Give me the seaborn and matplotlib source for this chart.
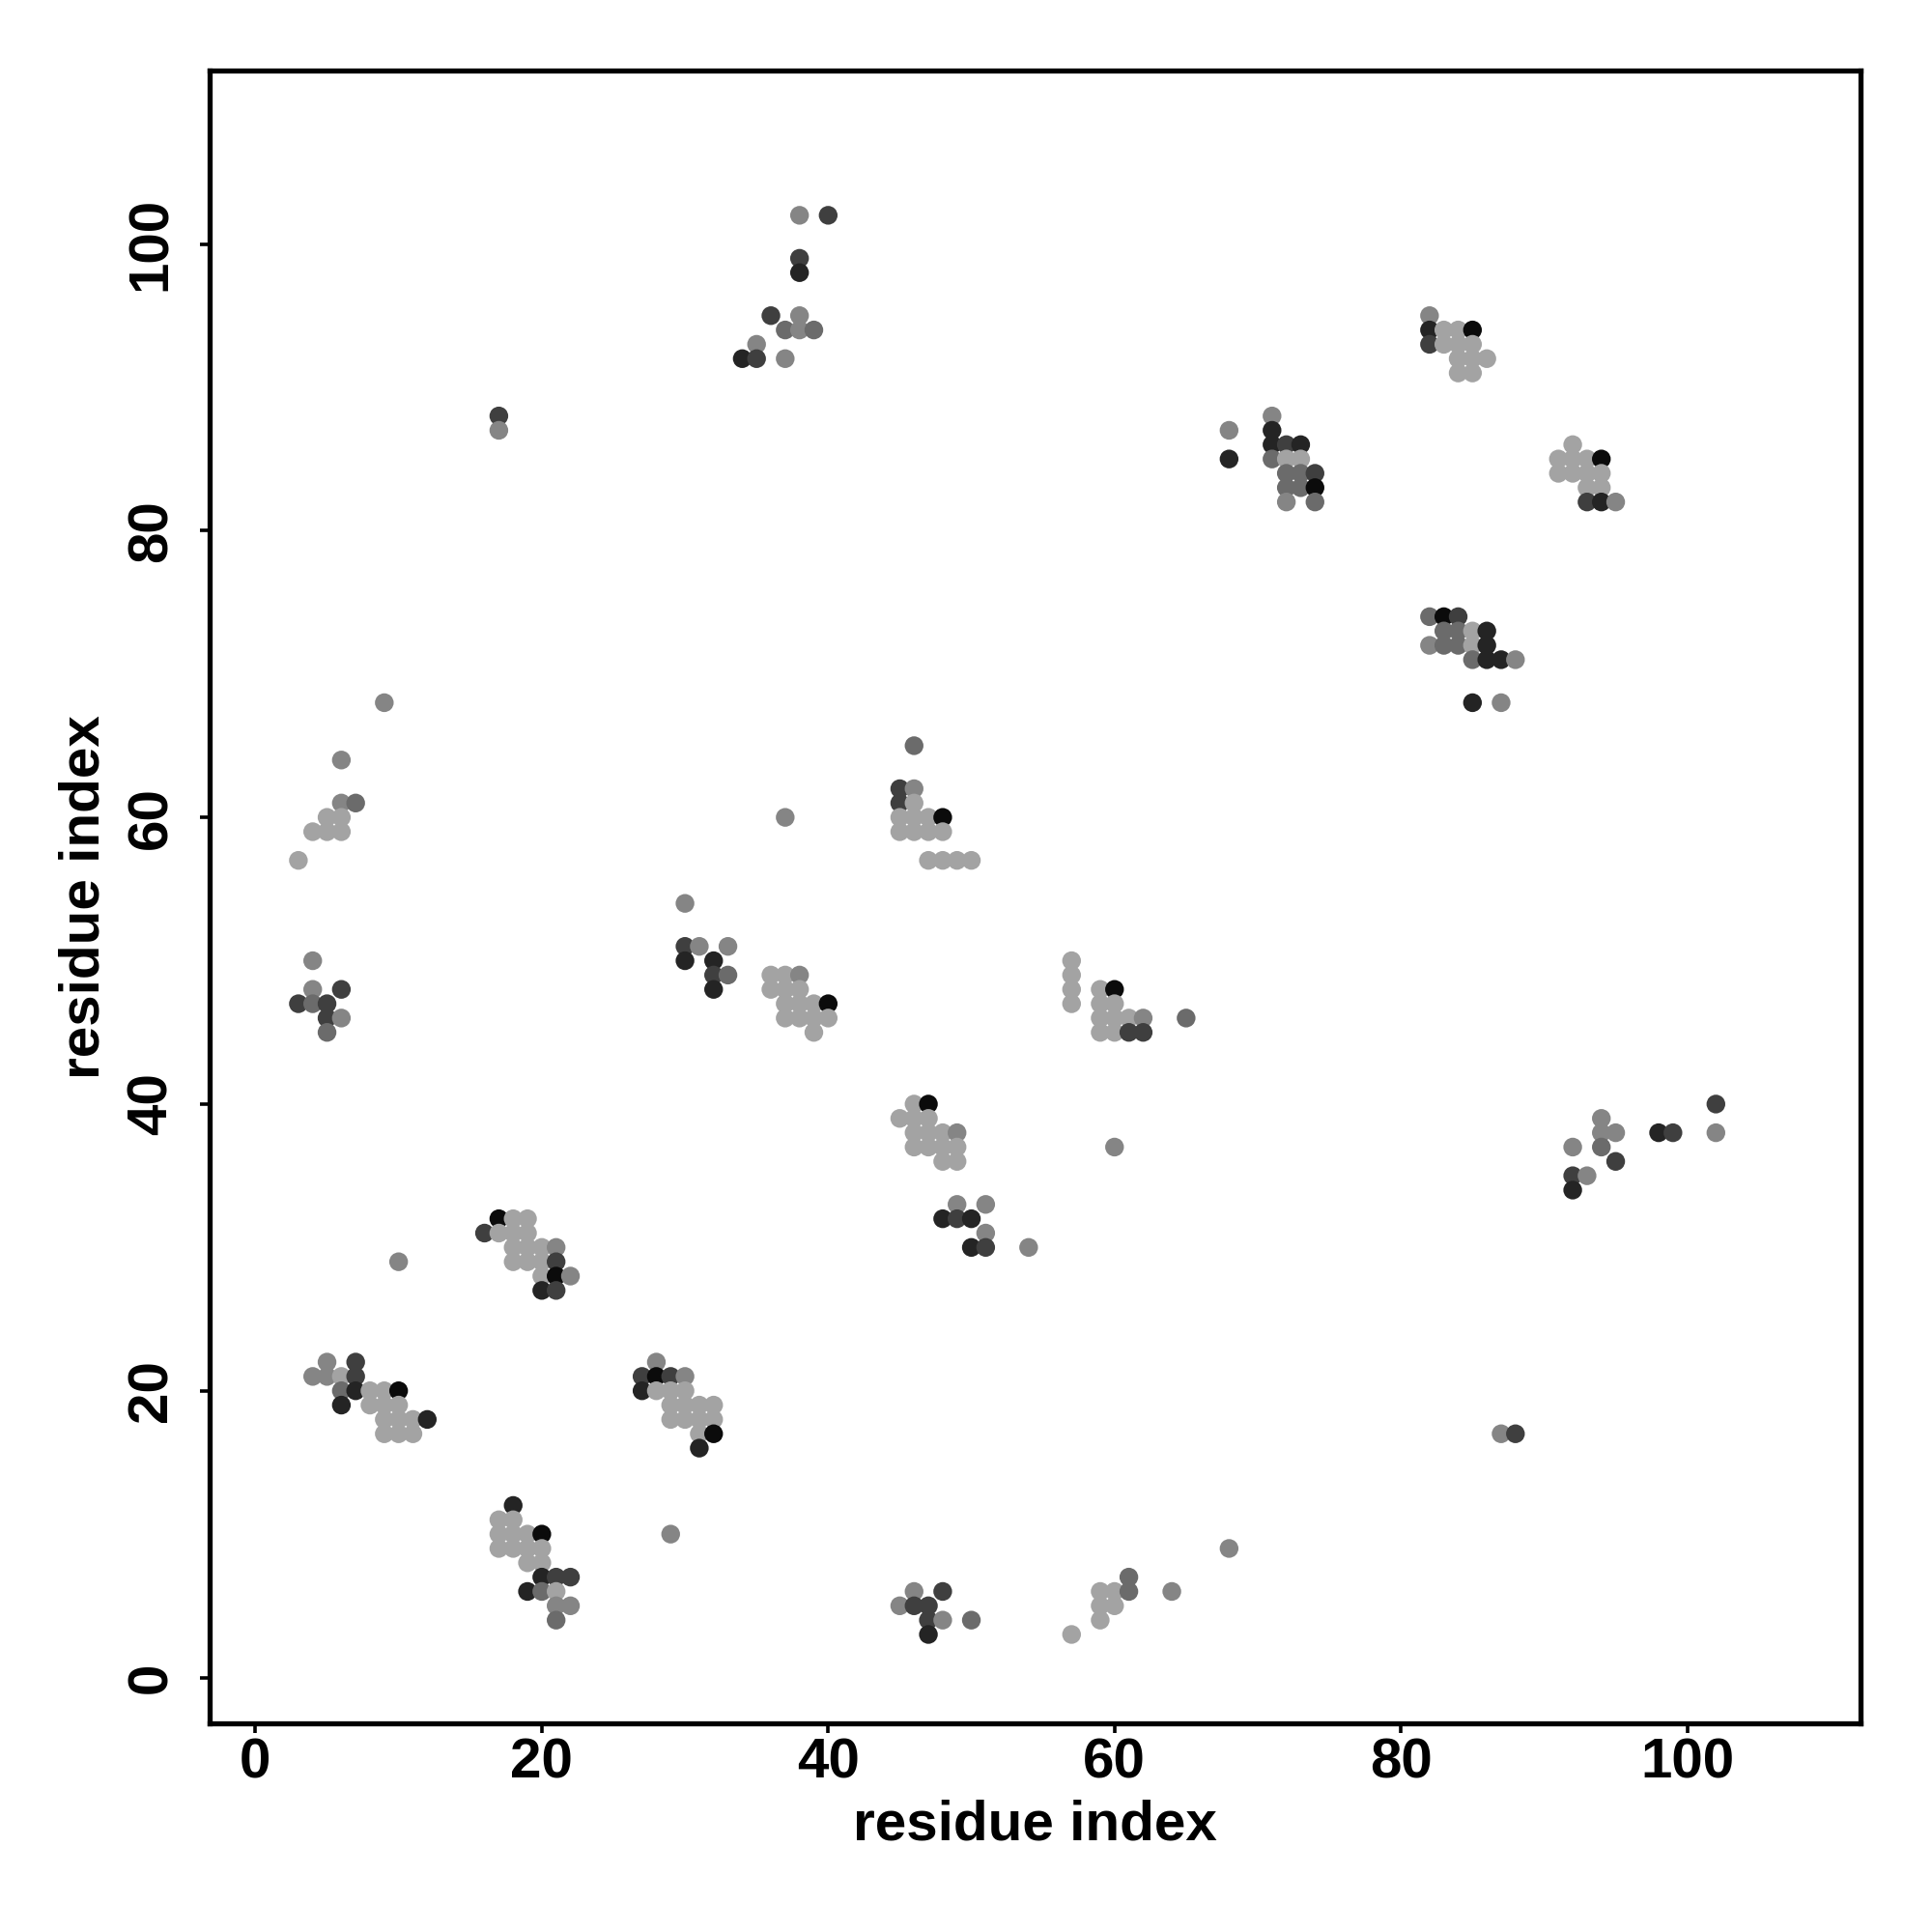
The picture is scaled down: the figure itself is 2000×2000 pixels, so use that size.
import matplotlib
matplotlib.use("Agg")
import matplotlib.pyplot as plt
import seaborn as sns
import pandas as pd

# ---------------------------
# contact points: residue i, residue j, shade class (one line per cluster)
# ---------------------------
res_i = [
    17, 18, 19, 16, 17, 18, 19, 18, 19, 20, 21, 18, 19, 20, 21, 20, 21, 22, 20, 21, 10,
    5, 7, 4, 5, 6, 7, 6, 7, 8, 9, 10, 6, 8, 9, 10, 9, 10, 11, 12, 9, 10, 11,
    18, 17, 18, 17, 18, 19, 20, 17, 18, 19, 20, 19, 20, 20, 21, 22, 19, 20, 21, 21, 22, 21,
    28, 27, 28, 29, 30, 27, 28, 29, 30, 29, 30, 31, 32, 29, 30, 31, 32, 31, 32, 31, 29,
    9, 6, 6, 7, 5, 6, 4, 5, 6, 3, 4, 4, 6, 3, 4, 5, 5, 6, 5,
    37, 30, 30, 31, 33, 30, 32, 32, 33, 32,
    36, 37, 38, 36, 37, 38, 37, 38, 39, 40, 37, 38, 39, 40, 39,
    38, 40, 38, 38, 36, 38, 37, 38, 39, 35, 34, 35, 37,
    17, 17,
    46, 47, 45, 46, 47, 46, 47, 48, 49, 46, 47, 48, 49, 48, 49,
    49, 51, 48, 49, 50, 51, 50, 51, 54,
    46, 45, 46, 45, 46, 45, 46, 47, 48, 45, 46, 47, 48, 47, 48, 49, 50,
    46, 48, 45, 46, 47, 47, 48, 47, 50,
    57, 59, 59, 60, 59, 60, 61, 61, 64, 68,
    57, 57, 57, 57, 59, 60, 59, 60, 59, 60, 61, 62, 59, 60, 61, 62, 65, 60,
    68, 68, 71, 71, 71, 72, 73, 71, 72, 73, 72, 73, 74, 72, 73, 74, 72, 74,
    82, 82, 83, 84, 85, 82, 83, 84, 85, 84, 85, 86, 84, 85,
    92, 91, 92, 93, 94, 91, 92, 93, 94, 93, 94, 93, 94, 95,
    82, 83, 84, 83, 84, 85, 86, 82, 83, 84, 85, 86, 85, 86, 87, 88, 85, 87,
    102, 102, 98, 99, 94, 94, 95, 92, 94, 95, 92, 93, 92,
    87, 88,
]
res_j = [
    32, 32, 32, 31, 31, 31, 31, 30, 30, 30, 30, 29, 29, 29, 29, 28, 28, 28, 27, 27, 29,
    22, 22, 21, 21, 21, 21, 20, 20, 20, 20, 20, 19, 19, 19, 19, 18, 18, 18, 18, 17, 17, 17,
    12, 11, 11, 10, 10, 10, 10, 9, 9, 9, 9, 8, 8, 7, 7, 7, 6, 6, 6, 5, 5, 4,
    22, 21, 21, 21, 21, 20, 20, 20, 20, 19, 19, 19, 19, 18, 18, 18, 18, 17, 17, 16, 10,
    68, 64, 61, 61, 60, 60, 59, 59, 59, 57, 50, 48, 48, 47, 47, 47, 46, 46, 45,
    60, 54, 51, 51, 51, 50, 50, 49, 49, 48,
    49, 49, 49, 48, 48, 48, 47, 47, 47, 47, 46, 46, 46, 46, 45,
    102, 102, 99, 98, 95, 95, 94, 94, 94, 93, 92, 92, 92,
    88, 87,
    40, 40, 39, 39, 39, 38, 38, 38, 38, 37, 37, 37, 37, 36, 36,
    33, 33, 32, 32, 32, 31, 30, 30, 30,
    65, 62, 62, 61, 61, 60, 60, 60, 60, 59, 59, 59, 59, 57, 57, 57, 57,
    6, 6, 5, 5, 5, 4, 4, 3, 4,
    3, 4, 5, 5, 6, 6, 6, 7, 6, 9,
    50, 49, 48, 47, 48, 48, 47, 47, 46, 46, 46, 46, 45, 45, 45, 45, 46, 37,
    87, 85, 88, 87, 86, 86, 86, 85, 85, 85, 84, 84, 84, 83, 83, 83, 82, 82,
    95, 94, 94, 94, 94, 93, 93, 93, 93, 92, 92, 92, 91, 91,
    86, 85, 85, 85, 85, 84, 84, 84, 84, 83, 83, 82, 82, 82,
    74, 74, 74, 73, 73, 73, 73, 72, 72, 72, 72, 72, 71, 71, 71, 71, 68, 68,
    40, 38, 38, 38, 39, 38, 38, 37, 37, 36, 35, 35, 34,
    17, 17,
]
shade_groups = [
    "faadaaaaaabaaadafbedb",
    "bdbbadceaafeaaaaaaeaaa",
    "eaaaaafaaaaaaeddecabbc",
    "bdfdbeaaaaaaaaaaaafeb",
    "bbbcaaaaaabbddcddbc",
    "bbdbbeedce",
    "aabaaaaaafaaaaa",
    "bddedbcbcbedb",
    "db",
    "afaaaaaabaaaaaa",
    "bbedebedb",
    "cdbdaaaafaaaaaaaa",
    "bdbdddbec",
    "aaaaaaccbb",
    "aaaaafaaaaabaaddcb",
    "bebeedecaaccdccfbc",
    "beaafdaaaaaaaa",
    "aaaafaaaaaadeb",
    "cfdccaebccaeceebeb",
    "dbedbbbbcddbe",
    "bd",
]
shade = list("".join(shade_groups))

shade_colors = {
    "a": "#a3a3a3",
    "b": "#858585",
    "c": "#6b6b6b",
    "d": "#3f3f3f",
    "e": "#242424",
    "f": "#0b0b0b",
}

df = pd.DataFrame({"i": res_i, "j": res_j, "shade": shade})

# ---------------------------
# plot
# ---------------------------
sns.set_style("white")
plt.rcParams["font.family"] = ["Liberation Sans", "DejaVu Sans"]
plt.rcParams["text.color"] = "black"
plt.rcParams["axes.labelcolor"] = "black"

fig = plt.figure(figsize=(20, 20), dpi=100)
ax = fig.add_axes([0.1085, 0.108, 0.8545, 0.8555])

sns.scatterplot(data=df, x="i", y="j", hue="shade", palette=shade_colors,
                s=195, linewidth=0, legend=False, ax=ax)

ax.set_xlim(-3.2, 112.1)
ax.set_ylim(-3.2, 112.1)
ax.set_xticks([0, 20, 40, 60, 80, 100])
ax.set_yticks([0, 20, 40, 60, 80, 100])

for sp in ax.spines.values():
    sp.set_visible(True)
    sp.set_color("black")
    sp.set_linewidth(3.8)

ax.tick_params(axis="both", direction="out", length=7.5, width=2.6,
               labelsize=42, color="black", labelcolor="black",
               bottom=True, left=True)
ax.tick_params(axis="x", pad=3)
ax.tick_params(axis="y", pad=16)
for lab in ax.get_xticklabels() + ax.get_yticklabels():
    lab.set_fontweight("bold")
plt.setp(ax.get_yticklabels(), rotation=90, va="center")

ax.set_xlabel("residue index", fontsize=42, fontweight="bold", color="black")
ax.set_ylabel("residue index", fontsize=42, fontweight="bold", color="black")
ax.xaxis.set_label_coords(0.5, -0.046)
ax.yaxis.set_label_coords(-0.0597, 0.5)
ax.grid(False)

fig.savefig("out.png", dpi=100)
